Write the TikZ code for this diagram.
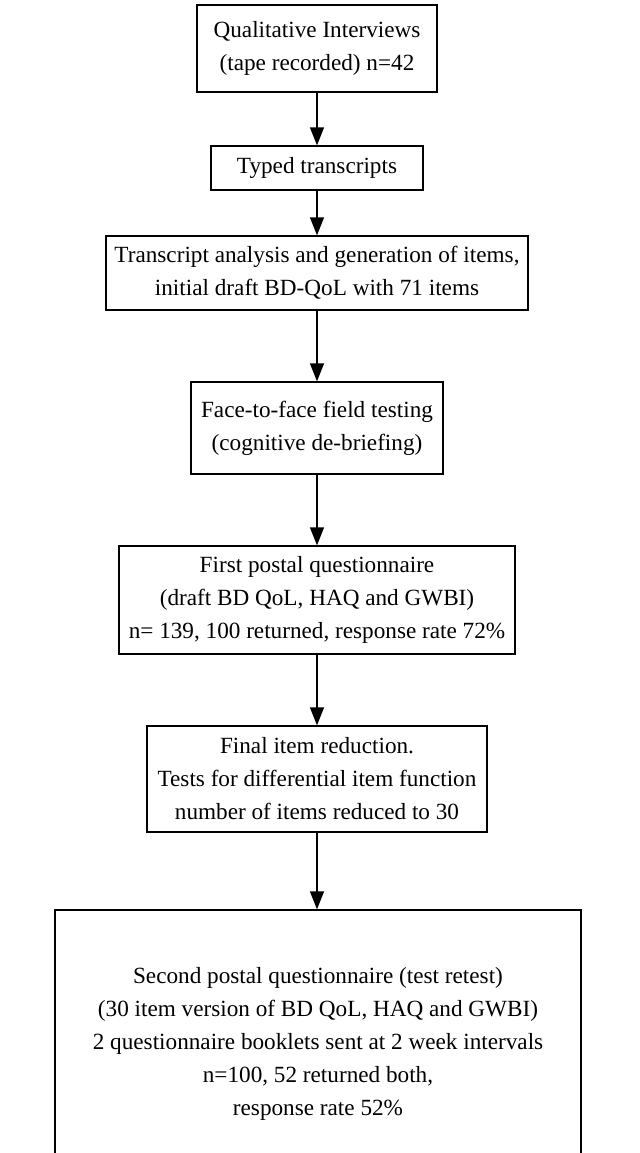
\documentclass[tikz,border=0pt]{standalone}
\usepackage{fontspec}
\setmainfont{Liberation Serif}
\usetikzlibrary{arrows.meta}

\tikzset{
  stage/.style={draw, line width=0.7pt, align=center, inner sep=2pt,
    font=\fontsize{11.6}{16.5}\selectfont},
  flow/.style={line width=0.7pt, -{Triangle[length=9pt,width=7pt]}}
}

\begin{document}
\begin{tikzpicture}[x=0.5pt,y=-0.5pt]
	\useasboundingbox (0,0) rectangle (639,1153);
	
	% stages
	\node[stage,minimum width=120pt,minimum height=43.5pt] (qual) at (317,48.5)
	{Qualitative Interviews\\(tape recorded) n=42};
	\node[stage,minimum width=106pt,minimum height=22pt] (typed) at (317,168)
	{Typed transcripts};
	\node[stage,minimum width=211pt,minimum height=37pt] (analysis) at (317,273)
	{Transcript analysis and generation of items,\\initial draft BD-QoL with 71 items};
	\node[stage,minimum width=126pt,minimum height=46pt] (field) at (317,428)
	{Face-to-face field testing\\(cognitive de-briefing)};
	\node[stage,minimum width=198pt,minimum height=54pt] (first) at (317,600)
	{First postal questionnaire\\(draft BD QoL, HAQ and GWBI)\\n= 139, 100 returned, response rate 72\%};
	\node[stage,minimum width=170pt,minimum height=53pt] (reduce) at (317,779)
	{Final item reduction.\\Tests for differential item function\\number of items reduced to 30};
	\node[stage,minimum width=263pt,minimum height=134pt] (second) at (318,1044)
	{Second postal questionnaire (test retest)\\(30 item version of BD QoL, HAQ and GWBI)\\2 questionnaire booklets sent at 2 week intervals\\n=100, 52 returned both,\\response rate 52\%};
	
	% arrows
	\draw[flow] (qual) -- (typed);
	\draw[flow] (typed) -- (analysis);
	\draw[flow] (analysis) -- (field);
	\draw[flow] (field) -- (first);
	\draw[flow] (first) -- (reduce);
	\draw[flow] (reduce) -- (reduce |- second.north);
	
\end{tikzpicture}
\end{document}
